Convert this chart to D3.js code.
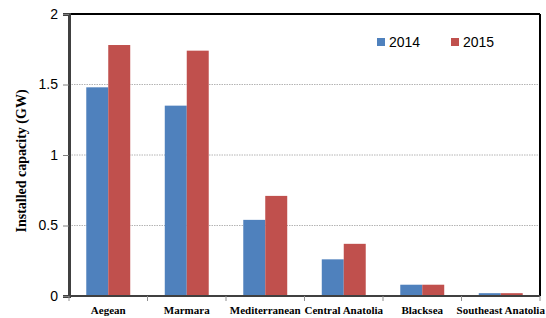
<!DOCTYPE html>
<html lang="en">
<head>
    <meta charset="UTF-8">
    <title>Installed capacity by region</title>
    <script src="https://d3js.org/d3.v7.min.js"></script>
    <style>
        body { margin: 0; padding: 0; background: #fff; }
        .tick-y text { font-family: "Liberation Sans", Arial, sans-serif; font-size: 14px; fill: #000; }
        .cat text { font-family: "Liberation Serif", "Times New Roman", serif; font-weight: bold; font-size: 11px; fill: #000; }
    </style>
</head>
<body>
    <svg id="chart"></svg>
    <script>
        // Data
        const regions = ["Aegean", "Marmara", "Mediterranean", "Central Anatolia", "Blacksea", "Southeast Anatolia"];
        const years = ["2014", "2015"];
        const values2014 = [1.48, 1.35, 0.54, 0.26, 0.08, 0.02];
        const values2015 = [1.78, 1.74, 0.71, 0.37, 0.08, 0.02];
        const yTicks = [0, 0.5, 1, 1.5, 2];
        const colors = ["#4F81BD", "#C0504D"];

        const W = 546, H = 318;
        const margin = { top: 14, right: 6, bottom: 22, left: 69 };
        const width = W - margin.left - margin.right;
        const height = H - margin.top - margin.bottom;

        const svg = d3.select("#chart").attr("width", W).attr("height", H);
        const g = svg.append("g").attr("transform", `translate(${margin.left},${margin.top})`);

        const x = d3.scaleBand().domain(regions).range([0, width]).paddingInner(0.44).paddingOuter(0.22);
        const x1 = d3.scaleBand().domain(years).range([0, x.bandwidth()]);
        const y = d3.scaleLinear().domain([0, 2]).range([height, 0]);

        // Gridlines
        g.selectAll(".grid").data(yTicks.filter(d => d > 0 && d < 2)).enter()
            .append("line")
            .attr("x1", 0).attr("x2", width)
            .attr("y1", d => y(d)).attr("y2", d => y(d))
            .attr("stroke", "#b4b4b4").attr("stroke-width", 1).attr("stroke-dasharray", "1.5,1");

        // Bars
        const rows = regions.map((r, i) => ({ region: r, vals: [values2014[i], values2015[i]] }));
        const grp = g.selectAll(".grp").data(rows).enter().append("g")
            .attr("transform", d => `translate(${x(d.region)},0)`);
        grp.selectAll("rect").data(d => d.vals.map((v, j) => ({ v, year: years[j], j }))).enter()
            .append("rect")
            .attr("x", d => x1(d.year))
            .attr("y", d => y(d.v))
            .attr("width", x1.bandwidth())
            .attr("height", d => y(0) - y(d.v))
            .attr("fill", d => colors[d.j]);

        // Frame: top and right black
        g.append("line").attr("x1", 0).attr("x2", width).attr("y1", 0).attr("y2", 0)
            .attr("stroke", "#000").attr("stroke-width", 2);
        g.append("line").attr("x1", width).attr("x2", width).attr("y1", 0).attr("y2", height)
            .attr("stroke", "#000").attr("stroke-width", 2);

        // Y axis
        const yAxis = g.append("g").attr("class", "tick-y")
            .call(d3.axisLeft(y).tickValues(yTicks).tickFormat(d3.format("")).tickSize(6).tickPadding(5));
        yAxis.select(".domain").attr("stroke", "#404040").attr("stroke-width", 3);
        yAxis.selectAll(".tick line").attr("stroke", "#808080");

        // X axis
        const step = x.step();
        const bounds = d3.range(regions.length + 1).map(i => i * step);
        const xAxis = g.append("g").attr("class", "cat").attr("transform", `translate(0,${height})`);
        xAxis.append("line").attr("x1", 0).attr("x2", width).attr("stroke", "#404040").attr("stroke-width", 2);
        xAxis.selectAll(".tk").data(bounds).enter().append("line")
            .attr("x1", d => d).attr("x2", d => d).attr("y1", 0).attr("y2", 5)
            .attr("stroke", "#909090");
        xAxis.selectAll("text").data(regions).enter().append("text")
            .attr("x", d => x(d) + x.bandwidth() / 2)
            .attr("y", 18)
            .attr("text-anchor", "middle")
            .text(d => d);

        // Y label
        svg.append("text")
            .attr("transform", `translate(26,${margin.top + height / 2 + 6}) rotate(-90)`)
            .attr("text-anchor", "middle")
            .style("font-family", "'Liberation Serif', 'Times New Roman', serif")
            .style("font-weight", "bold").style("font-size", "14px")
            .text("Installed capacity (GW)");

        // Legend
        const legend = svg.append("g");
        const lx = [377, 451];
        years.forEach((yr, i) => {
            legend.append("rect").attr("x", lx[i]).attr("y", 38).attr("width", 8).attr("height", 8).attr("fill", colors[i]);
            legend.append("text").attr("x", lx[i] + 12).attr("y", 47)
                .style("font-family", "'Liberation Sans', Arial, sans-serif").style("font-size", "14px")
                .text(yr);
        });
    </script>
</body>
</html>
